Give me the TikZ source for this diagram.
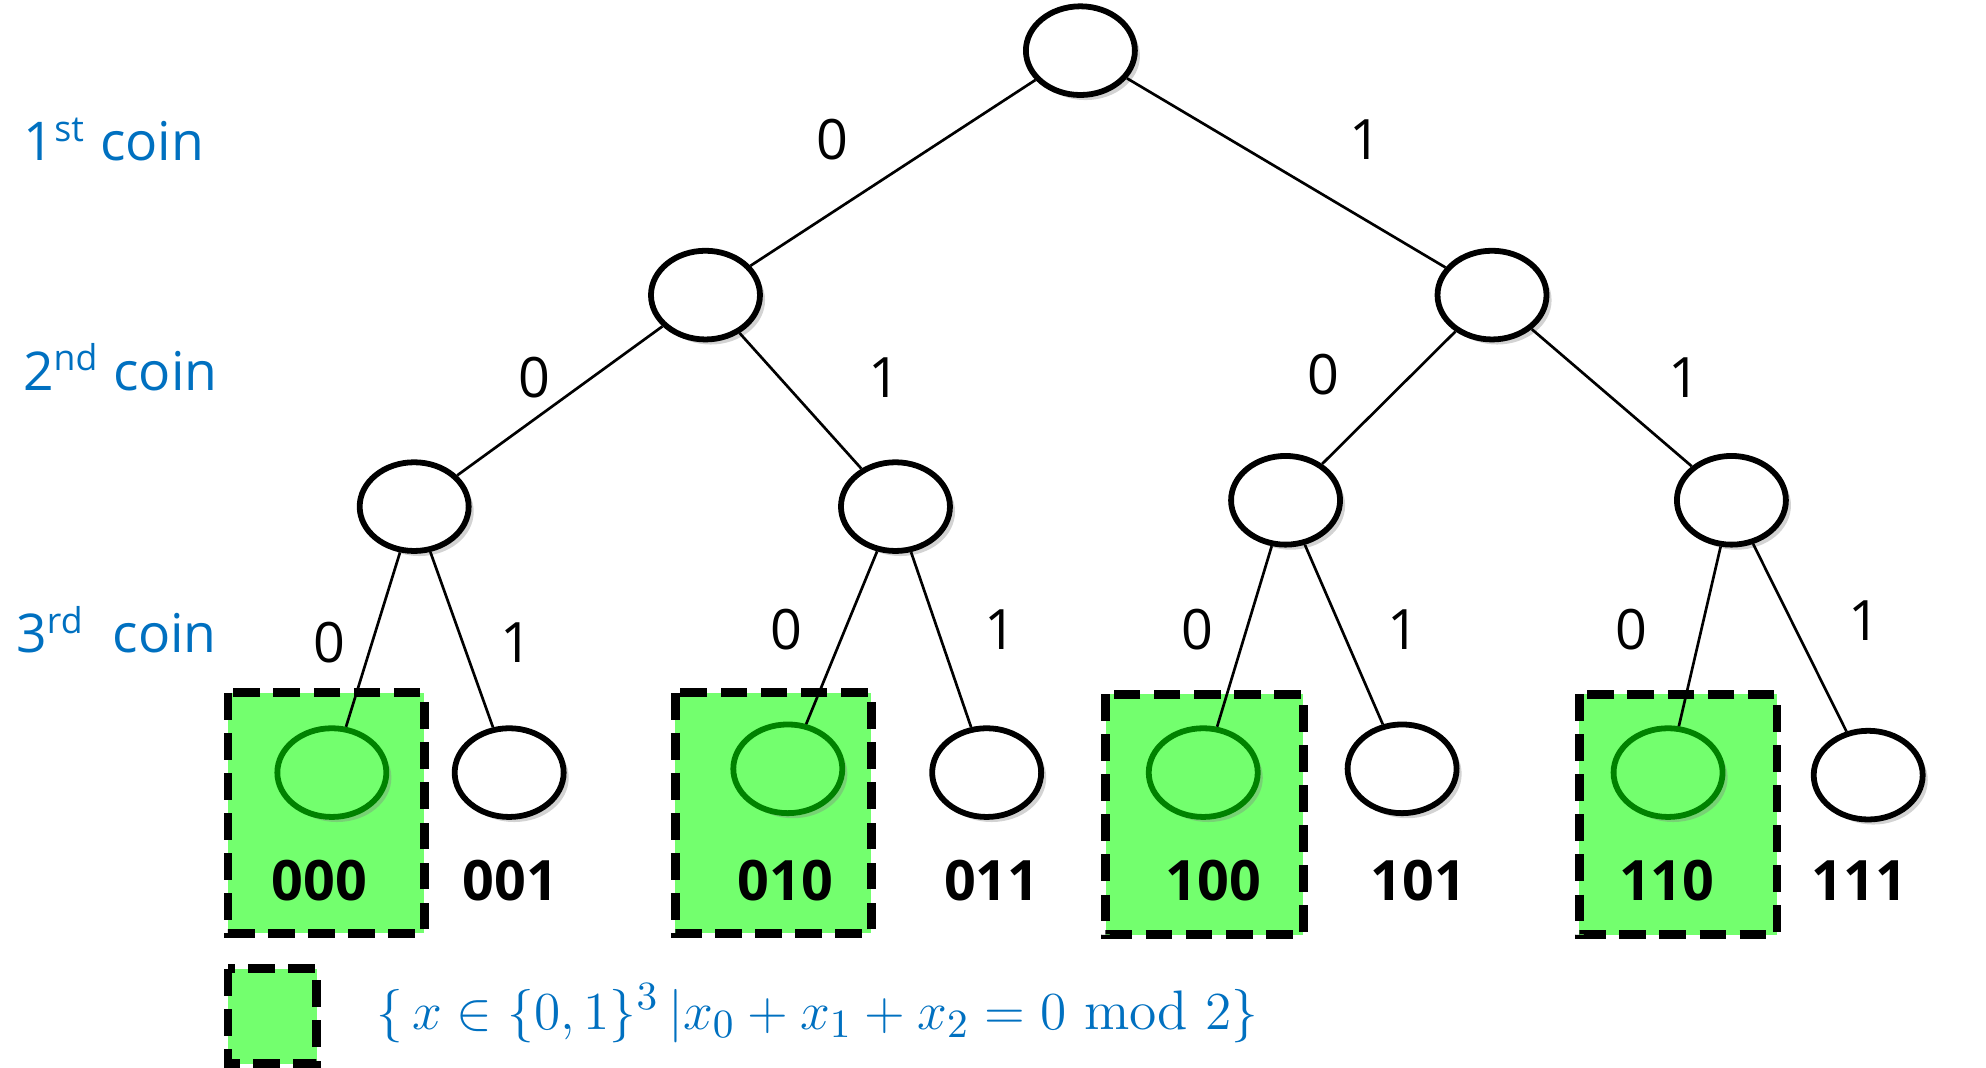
\documentclass[tikz,border=0pt]{standalone}
\usepackage{fontspec}
\setsansfont{Open Sans}
\usetikzlibrary{shapes.geometric,shadows}
\definecolor{cblue}{RGB}{0,112,192}
\definecolor{lgreen}{RGB}{115,255,110}
\definecolor{dgreen}{RGB}{0,130,0}
\begin{document}
\begin{tikzpicture}[x=0.01cm,y=-0.01cm,
  nd/.style={ellipse,draw=black,line width=1.3pt,fill=white,minimum width=0.86cm,minimum height=0.7cm,inner sep=0pt,drop shadow={opacity=0.35,shadow xshift=0.04cm,shadow yshift=-0.04cm}},
  gnd/.style={nd,fill=lgreen,draw=dgreen},
  gbox/.style={draw=black,line width=2pt,dash pattern=on 6pt off 3pt,fill=lgreen},
  edge/.style={line width=0.6pt},
  el/.style={font=\sffamily\fontsize{12.5}{13}\selectfont},
  lf/.style={font=\sffamily\bfseries\fontsize{12.5}{13}\selectfont},
  coin/.style={font=\sffamily\fontsize{12}{13}\selectfont,text=cblue}]
\useasboundingbox (0,0) rectangle (1568,843);
% green boxes
\draw[gbox] (180,547) rectangle (335,737);
\draw[gbox] (533,547) rectangle (688,737);
\draw[gbox] (873,548) rectangle (1029,738);
\draw[gbox] (1247,548) rectangle (1403,738);
\draw[gbox] (180,765) rectangle (250,840);
% nodes
\node[nd] (r) at (853,40) {};
\node[nd] (a) at (557,233) {};
\node[nd] (b) at (1178,233) {};
\node[nd] (aa) at (327,400) {};
\node[nd] (ab) at (707,400) {};
\node[nd] (ba) at (1015,395) {};
\node[nd] (bb) at (1367,395) {};
\node[gnd] (l0) at (262,610) {};
\node[nd] (l1) at (402,610) {};
\node[gnd] (l2) at (622,607) {};
\node[nd] (l3) at (779,610) {};
\node[gnd] (l4) at (950,610) {};
\node[nd] (l5) at (1107,607) {};
\node[gnd] (l6) at (1317,610) {};
\node[nd] (l7) at (1475,612) {};
% edges
\draw[edge] (r) -- (a); \draw[edge] (r) -- (b);
\draw[edge] (a) -- (aa); \draw[edge] (a) -- (ab);
\draw[edge] (b) -- (ba); \draw[edge] (b) -- (bb);
\draw[edge] (aa) -- (l0); \draw[edge] (aa) -- (l1);
\draw[edge] (ab) -- (l2); \draw[edge] (ab) -- (l3);
\draw[edge] (ba) -- (l4); \draw[edge] (ba) -- (l5);
\draw[edge] (bb) -- (l6); \draw[edge] (bb) -- (l7);
% edge labels
\node[el] (e1) at (657,110) {0}; \node[el] (e2) at (1078,110) {1};
\node[el] (e3) at (422,298) {0}; \node[el] (e4) at (698,298) {1};
\node[el] (e5) at (1045,296) {0}; \node[el] (e6) at (1330,298) {1};
\node[el] (e7) at (260,507) {0}; \node[el] (e8) at (408,507) {1};
\node[el] (e9) at (621,497) {0}; \node[el] (e10) at (790,497) {1};
\node[el] (e11) at (945,497) {0}; \node[el] (e12) at (1108,497) {1};
\node[el] (e13) at (1288,497) {0}; \node[el] (e14) at (1472,490) {1};
% leaf labels
\node[lf] (t0) at (252,695) {000}; \node[lf] (t1) at (403,695) {001};
\node[lf] (t2) at (620,695) {010}; \node[lf] (t3) at (783,695) {011};
\node[lf] (t4) at (958,695) {100}; \node[lf] (t5) at (1120,695) {101};
\node[lf] (t6) at (1316,695) {110}; \node[lf] (t7) at (1468,695) {111};
% coin labels
\node[coin] (c1) at (90,110) {1\textsuperscript{st} coin};
\node[coin] (c2) at (95,290) {2\textsuperscript{nd} coin};
\node[coin] (c3) at (92,497) {3\textsuperscript{rd}\ \ coin};
% legend
\node[text=cblue,font=\fontsize{12.5}{13}\selectfont,anchor=west] (lg) at (285,800)
  {$\{\,x\in\{0,1\}^3\,\big|x_0+x_1+x_2=0\ \mathrm{mod}\ 2\}$};
\end{tikzpicture}
\end{document}
